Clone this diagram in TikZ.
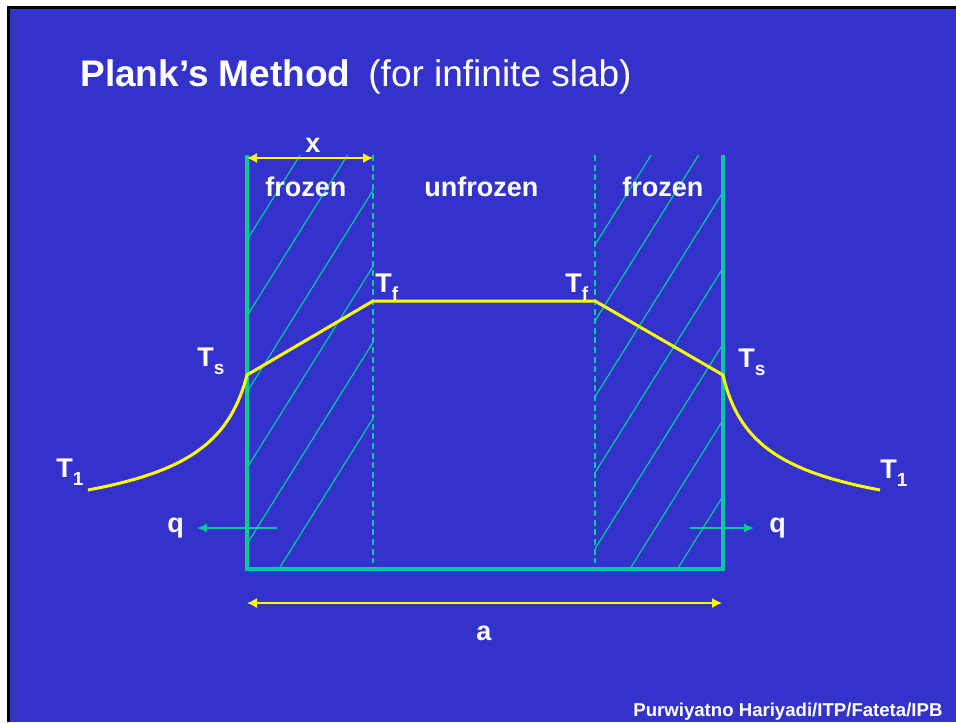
\documentclass[tikz,border=0pt]{standalone}
\usepackage{fontspec}
\setmainfont{Liberation Sans}
\usetikzlibrary{arrows.meta}
\definecolor{slideblue}{RGB}{51,51,204}
\definecolor{wallgreen}{RGB}{0,204,153}
\definecolor{tempyellow}{RGB}{255,255,0}
\newcommand{\tsub}[1]{\raisebox{-4pt}{\fontsize{9.5}{10}\selectfont #1}}
\begin{document}
\begin{tikzpicture}[x=0.5pt,y=-0.5pt,
    lbl/.style={text=white,font=\fontsize{13.5}{16}\selectfont\bfseries,inner sep=0pt,anchor=base west},
    wall/.style={draw=wallgreen,line width=2pt},
    hatch/.style={draw=wallgreen,line width=0.6pt},
    front/.style={draw=wallgreen,line width=0.65pt,dash pattern=on 3pt off 1.8pt},
    temp/.style={draw=tempyellow,line width=1.5pt,line join=round},
    dimarrow/.style={draw=tempyellow,line width=0.75pt,{Latex[length=5pt,width=5pt]}-{Latex[length=5pt,width=5pt]}},
    flux/.style={draw=wallgreen,line width=0.75pt,-{Latex[length=5pt,width=4.5pt]}}]
	\useasboundingbox (0,0) rectangle (956,722);
	% slide
	\fill[white] (0,0) rectangle (956,722);
	\fill[black] (7,6) rectangle (956,722);
	\fill[slideblue] (10,9) rectangle (956,722);
	% slab corners and fronts
	\coordinate (lt) at (247,155);
	\coordinate (lb) at (247,569);
	\coordinate (rb) at (723,569);
	\coordinate (rt) at (723,155);
	\coordinate (flt) at (373,155);
	\coordinate (flb) at (373,563);
	\coordinate (frt) at (595,155);
	\coordinate (frb) at (595,563);
	% hatching of the frozen layers
	\begin{scope}
		\clip (lt) rectangle (flb |- lb);
		\foreach \y in {240,316,...,620}
			\draw[hatch] (147,\y+160) -- (447,\y-320);
	\end{scope}
	\begin{scope}
		\clip (frt) rectangle (rb);
		\foreach \y in {40,116,...,572}
			\draw[hatch] (523,\y+320) -- (823,\y-160);
	\end{scope}
	\draw[front] (flt) -- (flb);
	\draw[front] (frt) -- (frb);
	\draw[wall] (lt) -- (lb) -- (rb) -- (rt);
	% temperature profile
	\coordinate (t1l) at (88,490);
	\coordinate (tsl) at (247,375);
	\coordinate (tfl) at (373,301);
	\coordinate (tfr) at (595,301);
	\coordinate (tsr) at (723,375);
	\coordinate (t1r) at (880,490);
	\draw[temp] (t1l) .. controls (190,471) and (230,440) .. (tsl) -- (tfl) -- (tfr) -- (tsr)
		.. controls (738,440) and (778,471) .. (t1r);
	% dimensions and heat flux
	\coordinate (xa) at (247,158);
	\coordinate (xb) at (373,158);
	\coordinate (aa) at (247,603);
	\coordinate (ab) at (722,603);
	\coordinate (ql0) at (277,528);
	\coordinate (ql1) at (197,528);
	\coordinate (qr0) at (690,528);
	\coordinate (qr1) at (754,528);
	\draw[dimarrow] (xa) -- (xb);
	\draw[dimarrow] (aa) -- (ab);
	\draw[flux] (ql0) -- (ql1);
	\draw[flux] (qr0) -- (qr1);
	% labels
	\node[lbl,font=\fontsize{18.5}{22}\selectfont\bfseries] (title) at (80,87) {Plank’s Method};
	\node[lbl,font=\fontsize{18.5}{22}\selectfont] (subtitle) at (368,87) {(for infinite slab)};
	\node[lbl] (xlab) at (305,152) {x};
	\node[lbl] (alab) at (476,640) {a};
	\node[lbl] (frozl) at (265,196) {frozen};
	\node[lbl] (unfroz) at (424,196) {unfrozen};
	\node[lbl] (frozr) at (622,196) {frozen};
	\node[lbl] (tsll) at (197,366) {T\tsub{s}};
	\node[lbl] (tsrl) at (738,367) {T\tsub{s}};
	\node[lbl] (tfll) at (375,292) {T\tsub{f}};
	\node[lbl] (tfrl) at (565,292) {T\tsub{f}};
	\node[lbl] (t1ll) at (56,477) {T\tsub{1}};
	\node[lbl] (t1rl) at (880,478) {T\tsub{1}};
	\node[lbl] (qlab1) at (167,532) {q};
	\node[lbl] (qlab2) at (769,532) {q};
	\node[lbl,font=\fontsize{9.3}{11}\selectfont\bfseries] (credit) at (633,716) {Purwiyatno Hariyadi/ITP/Fateta/IPB};
\end{tikzpicture}
\end{document}
